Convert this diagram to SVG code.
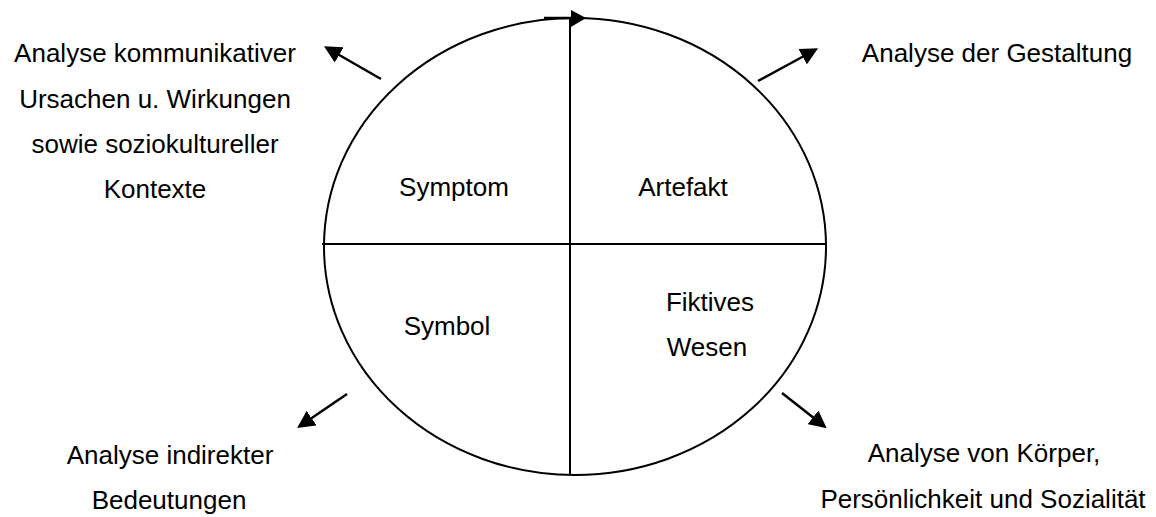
<svg xmlns="http://www.w3.org/2000/svg" width="1156" height="517" viewBox="0 0 1156 517">
<style>
.ln{stroke:#000;stroke-width:2;fill:none}
.ar{stroke:#000;stroke-width:2.5;fill:none}
.t{font-family:"Liberation Sans",Arial,sans-serif;font-size:26px;fill:#000;text-anchor:middle}
</style>
<defs>
<marker id="ah" viewBox="0 0 10 10" refX="8" refY="5" markerWidth="7" markerHeight="7" markerUnits="strokeWidth" orient="auto">
<path d="M0,0 L10,5 L0,10 Z" fill="#000"/>
</marker>
</defs>
<rect width="1156" height="517" fill="#fff"/>
<g id="circle">
<ellipse class="ln" cx="575" cy="246.5" rx="251" ry="228.5"/>
<line class="ln" x1="570" y1="18" x2="570" y2="475"/>
<line class="ln" x1="322" y1="244" x2="826" y2="244"/>
<line x1="544" y1="18" x2="572" y2="18" stroke="#000" stroke-width="2.5"/>
<path d="M571,10 L586,18 L571,27 Z" fill="#000"/>
</g>
<g id="symptom"><text class="t" x="454" y="196">Symptom</text></g>
<g id="artefakt"><text class="t" x="683" y="196">Artefakt</text></g>
<g id="symbol"><text class="t" x="447" y="335">Symbol</text></g>
<g id="fiktives"><text class="t" x="710" y="311">Fiktives</text><text class="t" x="707" y="356">Wesen</text></g>
<g id="label-tl"><text class="t" x="155" y="62">Analyse kommunikativer</text><text class="t" x="155" y="107.5">Ursachen u. Wirkungen</text><text class="t" x="155" y="153">sowie soziokultureller</text><text class="t" x="155" y="198">Kontexte</text></g>
<g id="label-tr"><text class="t" x="997" y="62">Analyse der Gestaltung</text></g>
<g id="label-bl"><text class="t" x="170" y="464">Analyse indirekter</text><text class="t" x="169" y="509">Bedeutungen</text></g>
<g id="label-br"><text class="t" x="984" y="462">Analyse von Körper,</text><text class="t" x="983" y="508">Persönlichkeit und Sozialität</text></g>
<g id="connectors">
<line class="ar" x1="381" y1="79" x2="327" y2="48" marker-end="url(#ah)"/>
<line class="ar" x1="758" y1="81" x2="815" y2="50" marker-end="url(#ah)"/>
<line class="ar" x1="347" y1="394" x2="300" y2="426" marker-end="url(#ah)"/>
<line class="ar" x1="782" y1="393" x2="824" y2="426" marker-end="url(#ah)"/>
</g>
</svg>
